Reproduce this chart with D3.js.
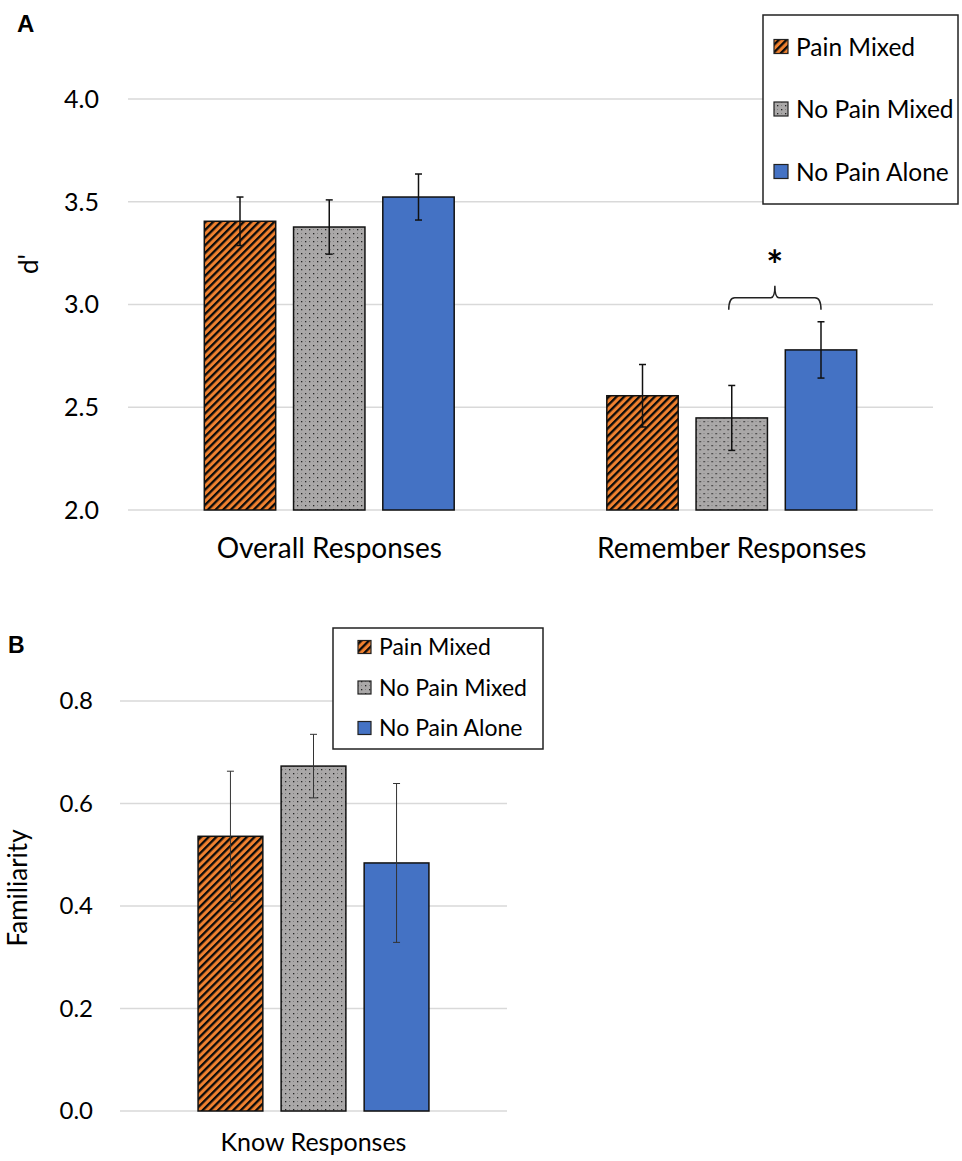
<!DOCTYPE html>
<html>
<head>
<meta charset="utf-8">
<script src="https://cdn.jsdelivr.net/npm/d3@7"></script>
<style>
  body { margin: 0; background: #fff; }
  text { font-family: Lato, "Open Sans", sans-serif; fill: #000; }
</style>
</head>
<body>
<div id="chart"></div>
<script>
// data
var series = ["Pain Mixed", "No Pain Mixed", "No Pain Alone"];
var categoriesA = ["Overall Responses", "Remember Responses"];
var valuesA = {
  "Overall Responses": [3.405, 3.377, 3.523],
  "Remember Responses": [2.556, 2.448, 2.779]
};
var errorsA = {
  "Overall Responses": [0.118, 0.132, 0.112],
  "Remember Responses": [0.152, 0.158, 0.137]
};
var ticksA = [2.0, 2.5, 3.0, 3.5, 4.0];

var categoriesB = ["Know Responses"];
var valuesB = [0.536, 0.673, 0.484];
var errorsB = [0.127, 0.062, 0.155];
var ticksB = [0.0, 0.2, 0.4, 0.6, 0.8];

var fills = ["url(#stripes)", "url(#dots)", "#4472C4"];

var svg = d3.select("#chart").append("svg")
  .attr("width", 962)
  .attr("height", 1161);

// patterns
var defs = svg.append("defs");
var stripes = defs.append("pattern")
  .attr("id", "stripes")
  .attr("patternUnits", "userSpaceOnUse")
  .attr("width", 5.4).attr("height", 5.4)
  .attr("patternTransform", "rotate(45)");
stripes.append("rect").attr("width", 5.4).attr("height", 5.4).attr("fill", "#F0812F");
stripes.append("rect").attr("width", 2.3).attr("height", 5.4).attr("fill", "#0a0a0a");

var dots = defs.append("pattern")
  .attr("id", "dots")
  .attr("patternUnits", "userSpaceOnUse")
  .attr("width", 8).attr("height", 8);
dots.append("rect").attr("width", 8).attr("height", 8).attr("fill", "#AAA8A8");
dots.append("rect").attr("x", 1).attr("y", 1).attr("width", 1.3).attr("height", 1.3).attr("fill", "#222");
dots.append("rect").attr("x", 5).attr("y", 5).attr("width", 1.3).attr("height", 1.3).attr("fill", "#222");
dots.append("rect").attr("x", 5).attr("y", 1).attr("width", 1).attr("height", 1).attr("fill", "#808080");
dots.append("rect").attr("x", 1).attr("y", 5).attr("width", 1).attr("height", 1).attr("fill", "#808080");

// ---------- panel A ----------
var yA = d3.scaleLinear().domain([2, 4]).range([510, 99]);
var x0A = d3.scaleBand().domain(categoriesA).range([128, 933]);
var x1A = d3.scaleBand().domain(series).range([0, x0A.bandwidth()])
  .paddingInner(0.2).paddingOuter(0.855);

var gA = svg.append("g");

gA.selectAll(".gridA").data(ticksA).enter().append("line")
  .attr("x1", 128).attr("x2", 933)
  .attr("y1", d => yA(d)).attr("y2", d => yA(d))
  .attr("stroke", "#d9d9d9").attr("stroke-width", 1.5);

gA.selectAll(".tickA").data(ticksA).enter().append("text")
  .attr("x", 99).attr("y", d => yA(d))
  .attr("dy", "0.35em")
  .attr("text-anchor", "end")
  .style("font-size", "25px")
  .text(d => d3.format(".1f")(d));

var groupsA = gA.selectAll(".groupA").data(categoriesA).enter().append("g")
  .attr("transform", d => "translate(" + x0A(d) + ",0)");

groupsA.selectAll("rect").data(c => series.map((s, i) => ({s: s, i: i, v: valuesA[c][i], e: errorsA[c][i]})))
  .enter().append("rect")
  .attr("x", d => x1A(d.s))
  .attr("width", x1A.bandwidth())
  .attr("y", d => yA(d.v))
  .attr("height", d => yA(2) - yA(d.v))
  .attr("fill", d => fills[d.i])
  .attr("stroke", "#111").attr("stroke-width", 1.5);

groupsA.each(function(c) {
  var g = d3.select(this);
  series.forEach(function(s, i) {
    var cx = x1A(s) + x1A.bandwidth() / 2;
    var top = yA(valuesA[c][i] + errorsA[c][i]);
    var bot = yA(valuesA[c][i] - errorsA[c][i]);
    g.append("line").attr("x1", cx).attr("x2", cx).attr("y1", top).attr("y2", bot)
      .attr("stroke", "#111").attr("stroke-width", 1.5);
    [top, bot].forEach(function(yy) {
      g.append("line").attr("x1", cx - 3.5).attr("x2", cx + 3.5).attr("y1", yy).attr("y2", yy)
        .attr("stroke", "#111").attr("stroke-width", 1.5);
    });
  });
});

gA.selectAll(".catA").data(categoriesA).enter().append("text")
  .attr("x", d => x0A(d) + x0A.bandwidth() / 2)
  .attr("y", 558)
  .attr("text-anchor", "middle")
  .style("font-size", "28px")
  .text(d => d);

// significance bracket between No Pain Mixed and No Pain Alone (Remember)
var remX = x0A("Remember Responses");
var bx1 = remX + x1A("No Pain Mixed") + x1A.bandwidth() / 2 - 3;
var bx2 = remX + x1A("No Pain Alone") + x1A.bandwidth() / 2;
var bBase = yA(valuesA["Remember Responses"][2] + errorsA["Remember Responses"][2]) - 12;
var bTop = bBase - 12;
var bMid = (bx1 + bx2) / 2;
var br = d3.path();
br.moveTo(bx1, bBase);
br.quadraticCurveTo(bx1, bTop, bx1 + 6, bTop);
br.lineTo(bMid - 4, bTop);
br.quadraticCurveTo(bMid, bTop, bMid, bTop - 12);
br.quadraticCurveTo(bMid, bTop, bMid + 4, bTop);
br.lineTo(bx2 - 6, bTop);
br.quadraticCurveTo(bx2, bTop, bx2, bBase);
gA.append("path").attr("d", br.toString())
  .attr("fill", "none").attr("stroke", "#222").attr("stroke-width", 1.5);
gA.append("text")
  .attr("x", bMid).attr("y", bTop - 18)
  .attr("text-anchor", "middle")
  .style("font-size", "40px").style("font-weight", "bold")
  .text("*");

gA.append("text")
  .attr("transform", "translate(38,264) rotate(-90)")
  .attr("text-anchor", "middle")
  .style("font-size", "26px")
  .text("d'");

svg.append("text").attr("x", 17).attr("y", 32)
  .style("font-family", "Liberation Sans, Arial, sans-serif")
  .style("font-weight", "bold").style("font-size", "24px")
  .text("A");

// legend A
var legA = svg.append("g");
legA.append("rect").attr("x", 763).attr("y", 15).attr("width", 195).attr("height", 189)
  .attr("fill", "#fff").attr("stroke", "#222").attr("stroke-width", 1.5);
var legAy = d3.scalePoint().domain(series).range([47, 172]);
series.forEach(function(s, i) {
  legA.append("rect").attr("x", 774).attr("y", legAy(s) - 7.5).attr("width", 14).attr("height", 14)
    .attr("fill", fills[i]).attr("stroke", "#222").attr("stroke-width", 1.2);
  legA.append("text").attr("x", 796).attr("y", legAy(s)).attr("dy", "0.35em")
    .style("font-size", "24.5px").text(s);
});

// ---------- panel B ----------
var yB = d3.scaleLinear().domain([0, 0.8]).range([1111, 701]);
var x0B = d3.scaleBand().domain(categoriesB).range([120, 507]);
var x1B = d3.scaleBand().domain(series).range([0, x0B.bandwidth()])
  .paddingInner(0.22).paddingOuter(0.94);

var gB = svg.append("g");

gB.selectAll(".gridB").data(ticksB).enter().append("line")
  .attr("x1", 120).attr("x2", 507)
  .attr("y1", d => yB(d)).attr("y2", d => yB(d))
  .attr("stroke", "#d9d9d9").attr("stroke-width", 1.5);

gB.selectAll(".tickB").data(ticksB).enter().append("text")
  .attr("x", 93).attr("y", d => yB(d))
  .attr("dy", "0.35em")
  .attr("text-anchor", "end")
  .style("font-size", "24px")
  .text(d => d3.format(".1f")(d));

var groupB = gB.append("g").attr("transform", "translate(" + x0B(categoriesB[0]) + ",0)");
groupB.selectAll("rect").data(series.map((s, i) => ({s: s, i: i, v: valuesB[i], e: errorsB[i]})))
  .enter().append("rect")
  .attr("x", d => x1B(d.s))
  .attr("width", x1B.bandwidth())
  .attr("y", d => yB(d.v))
  .attr("height", d => yB(0) - yB(d.v))
  .attr("fill", d => fills[d.i])
  .attr("stroke", "#111").attr("stroke-width", 1.5);

series.forEach(function(s, i) {
  var cx = x1B(s) + x1B.bandwidth() / 2;
  var top = yB(valuesB[i] + errorsB[i]);
  var bot = yB(valuesB[i] - errorsB[i]);
  groupB.append("line").attr("x1", cx).attr("x2", cx).attr("y1", top).attr("y2", bot)
    .attr("stroke", "#333").attr("stroke-width", 1);
  [top, bot].forEach(function(yy) {
    groupB.append("line").attr("x1", cx - 3.5).attr("x2", cx + 3.5).attr("y1", yy).attr("y2", yy)
      .attr("stroke", "#333").attr("stroke-width", 1);
  });
});

gB.selectAll(".catB").data(categoriesB).enter().append("text")
  .attr("x", d => x0B(d) + x0B.bandwidth() / 2)
  .attr("y", 1151)
  .attr("text-anchor", "middle")
  .style("font-size", "25px")
  .text(d => d);

gB.append("text")
  .attr("transform", "translate(27,888) rotate(-90)")
  .attr("text-anchor", "middle")
  .style("font-size", "26px")
  .text("Familiarity");

svg.append("text").attr("x", 8).attr("y", 653)
  .style("font-family", "Liberation Sans, Arial, sans-serif")
  .style("font-weight", "bold").style("font-size", "23px")
  .text("B");

// legend B
var legB = svg.append("g");
legB.append("rect").attr("x", 333).attr("y", 628).attr("width", 210).attr("height", 121)
  .attr("fill", "#fff").attr("stroke", "#222").attr("stroke-width", 1.5);
var legBy = d3.scalePoint().domain(series).range([647, 728]);
series.forEach(function(s, i) {
  legB.append("rect").attr("x", 358).attr("y", legBy(s) - 6.5).attr("width", 13).attr("height", 13)
    .attr("fill", fills[i]).attr("stroke", "#222").attr("stroke-width", 1.2);
  legB.append("text").attr("x", 379).attr("y", legBy(s)).attr("dy", "0.35em")
    .style("font-size", "23px").text(s);
});
</script>
</body>
</html>
